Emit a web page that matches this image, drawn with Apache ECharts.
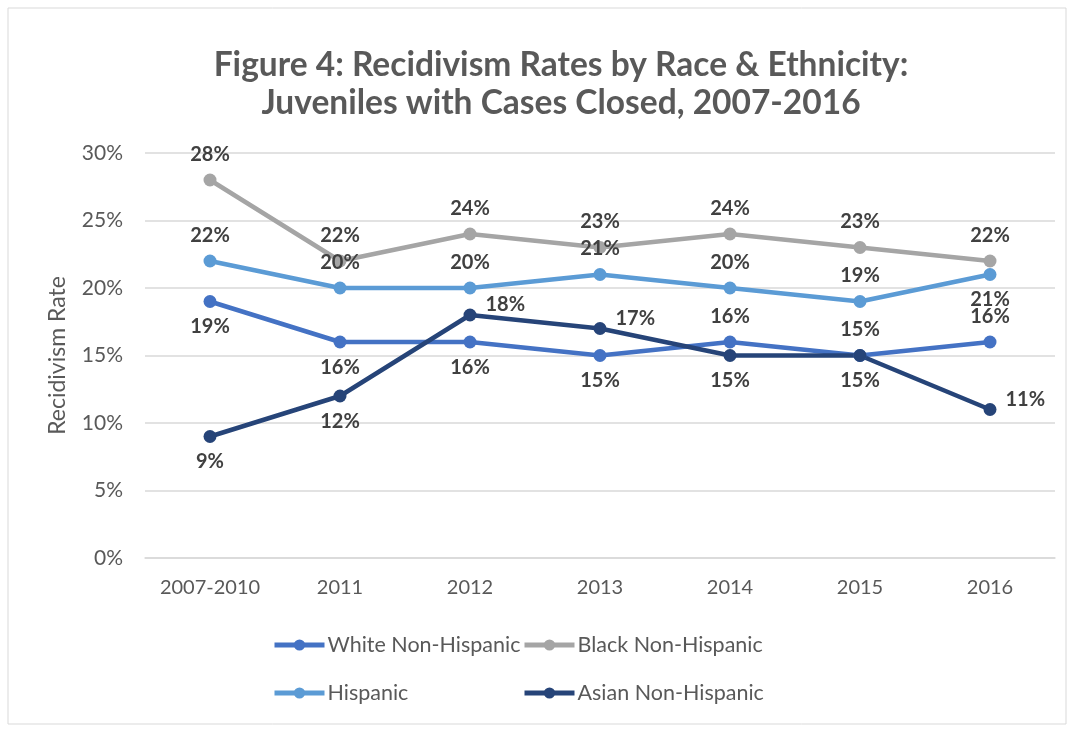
<!DOCTYPE html>
<html>
<head>
<meta charset="utf-8">
<script src="https://cdn.jsdelivr.net/npm/echarts@6/dist/echarts.min.js"></script>
<style>
	html, body { margin: 0; padding: 0; background: #fff; }
	#chart { width: 1073px; height: 729px; }
</style>
</head>
<body>
<div id="chart"></div>
<script>
var categories = ['2007-2010', '2011', '2012', '2013', '2014', '2015', '2016'];
var whiteNH = [19, 16, 16, 15, 16, 15, 16];
var blackNH = [28, 22, 24, 23, 24, 23, 22];
var hispanic = [22, 20, 20, 21, 20, 19, 21];
var asianNH = [9, 12, 18, 17, 15, 15, 11];
var yTicks = [0, 5, 10, 15, 20, 25, 30];

// where each point's label sits
var whitePos = ['bottom', 'bottom', 'bottom', 'bottom', 'top', 'top', 'top'];
var blackPos = ['top', 'top', 'top', 'top', 'top', 'top', 'top'];
var hispPos = ['top', 'top', 'top', 'top', 'top', 'top', 'bottom'];
var asianPos = ['bottom', 'bottom', 'right', 'right', 'bottom', 'bottom', 'right'];

var font = 'Lato, "Open Sans", sans-serif';

function withLabels(values, pos) {
	return values.map(function (v, i) {
		var lab = { position: pos[i] };
		if (pos[i] === 'right') lab.offset = [0, -10];
		return { value: v, label: lab };
	});
}

function makeSeries(name, color, values, pos) {
	return {
		name: name,
		type: 'line',
		data: withLabels(values, pos),
		symbol: 'circle',
		symbolSize: 13,
		lineStyle: { color: color, width: 4.5 },
		itemStyle: { color: color },
		label: {
			show: true,
			formatter: '{c}%',
			fontFamily: font,
			fontWeight: 'bold',
			fontSize: 20,
			color: '#404040',
			distance: 9
		}
	};
}

function legendAt(name, left, top) {
	return {
		data: [name],
		left: left,
		top: top,
		padding: 0,
		itemWidth: 50,
		itemHeight: 14,
		lineStyle: { width: 5 },
		textStyle: { fontFamily: font, fontSize: 21.5, color: '#595959', padding: [0, 0, 0, -2] }
	};
}

var myChart = echarts.init(document.getElementById('chart'));
var option = {
	backgroundColor: '#fff',
	graphic: [{
		type: 'rect',
		shape: { x: 8, y: 8, width: 1058, height: 716 },
		style: { fill: 'none', stroke: '#d9d9d9', lineWidth: 1 },
		silent: true
	}],
	title: {
		text: 'Figure 4: Recidivism Rates by Race & Ethnicity:\nJuveniles with Cases Closed, 2007-2016',
		left: 556,
		textAlign: 'center',
		top: 41,
		textStyle: {
			fontFamily: font,
			fontWeight: 'bold',
			fontSize: 33.5,
			lineHeight: 38,
			color: '#595959'
		}
	},
	legend: [
		legendAt('White Non-Hispanic', 272, 634),
		legendAt('Black Non-Hispanic', 522, 634),
		legendAt('Hispanic', 272, 682),
		legendAt('Asian Non-Hispanic', 522, 682)
	],
	grid: { left: 145, right: 18, top: 153, bottom: 171, containLabel: false },
	xAxis: {
		type: 'category',
		data: categories,
		boundaryGap: true,
		axisLine: { lineStyle: { color: '#d9d9d9', width: 1.5 } },
		axisTick: { show: false },
		axisLabel: { interval: 0, fontFamily: font, fontSize: 20, color: '#595959', margin: 20 }
	},
	yAxis: {
		type: 'value',
		min: yTicks[0],
		max: yTicks[yTicks.length - 1],
		interval: 5,
		name: 'Recidivism Rate',
		nameLocation: 'middle',
		nameGap: 76,
		nameTextStyle: { fontFamily: font, fontSize: 23, color: '#595959' },
		axisLine: { show: false },
		axisTick: { show: false },
		axisLabel: { formatter: '{value}%', fontFamily: font, fontSize: 21, color: '#595959', margin: 22 },
		splitLine: { lineStyle: { color: '#d9d9d9', width: 1.5 } }
	},
	series: [
		makeSeries('White Non-Hispanic', '#4472C4', whiteNH, whitePos),
		makeSeries('Black Non-Hispanic', '#A5A5A5', blackNH, blackPos),
		makeSeries('Hispanic', '#5B9BD5', hispanic, hispPos),
		makeSeries('Asian Non-Hispanic', '#264478', asianNH, asianPos)
	]
};
myChart.setOption(option);
</script>
</body>
</html>
